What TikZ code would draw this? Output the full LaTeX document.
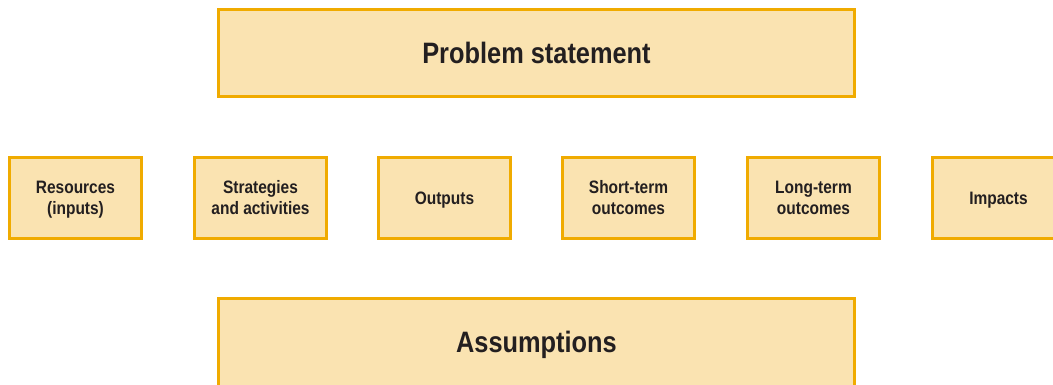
\documentclass[tikz,border=0pt]{standalone}
\usepackage{fontspec}
\newfontfamily\cond{Liberation Sans}[FakeStretch=0.86]
\definecolor{boxfill}{HTML}{FAE3B1}
\definecolor{boxline}{HTML}{F0AB00}
\definecolor{ink}{HTML}{231F20}
\begin{document}
\begin{tikzpicture}[x=1pt,y=-1pt,
  box/.style={draw=boxline,fill=boxfill,line width=3pt,inner sep=0pt,text=ink},
  bigtext/.style={font=\cond\bfseries\fontsize{29.5}{34}\selectfont,text height=21.1pt,text depth=0pt},
  smalltext/.style={font=\cond\bfseries\fontsize{18}{21}\selectfont,align=center},
  oneline/.style={text height=12.9pt,text depth=0pt},
  twoline/.style={text height=33.9pt,text depth=0pt},
  small/.style={box,minimum width=132pt,minimum height=81pt,smalltext}]
\useasboundingbox (0,0) rectangle (1053,385);
\clip (0,0) rectangle (1053,385);
\node[box,minimum width=636pt,minimum height=87pt,bigtext] (problem) at (536.5,53) {Problem statement};
\node[small,twoline] (res) at (75.5,198) {Resources\\(inputs)};
\node[small,twoline] (strat) at (260.5,198) {Strategies\\and activities};
\node[small,oneline] (out) at (444.5,198) {Outputs};
\node[small,twoline] (short) at (628.5,198) {Short-term\\outcomes};
\node[small,twoline] (long) at (813.5,198) {Long-term\\outcomes};
\node[small,oneline] (imp) at (998.5,198) {Impacts};
\node[box,minimum width=636pt,minimum height=110pt] (assump) at (536.5,353.5) {};
\node[bigtext,text=ink,inner sep=0pt] (assumptext) at (536.5,341.5) {Assumptions};
\end{tikzpicture}
\end{document}
